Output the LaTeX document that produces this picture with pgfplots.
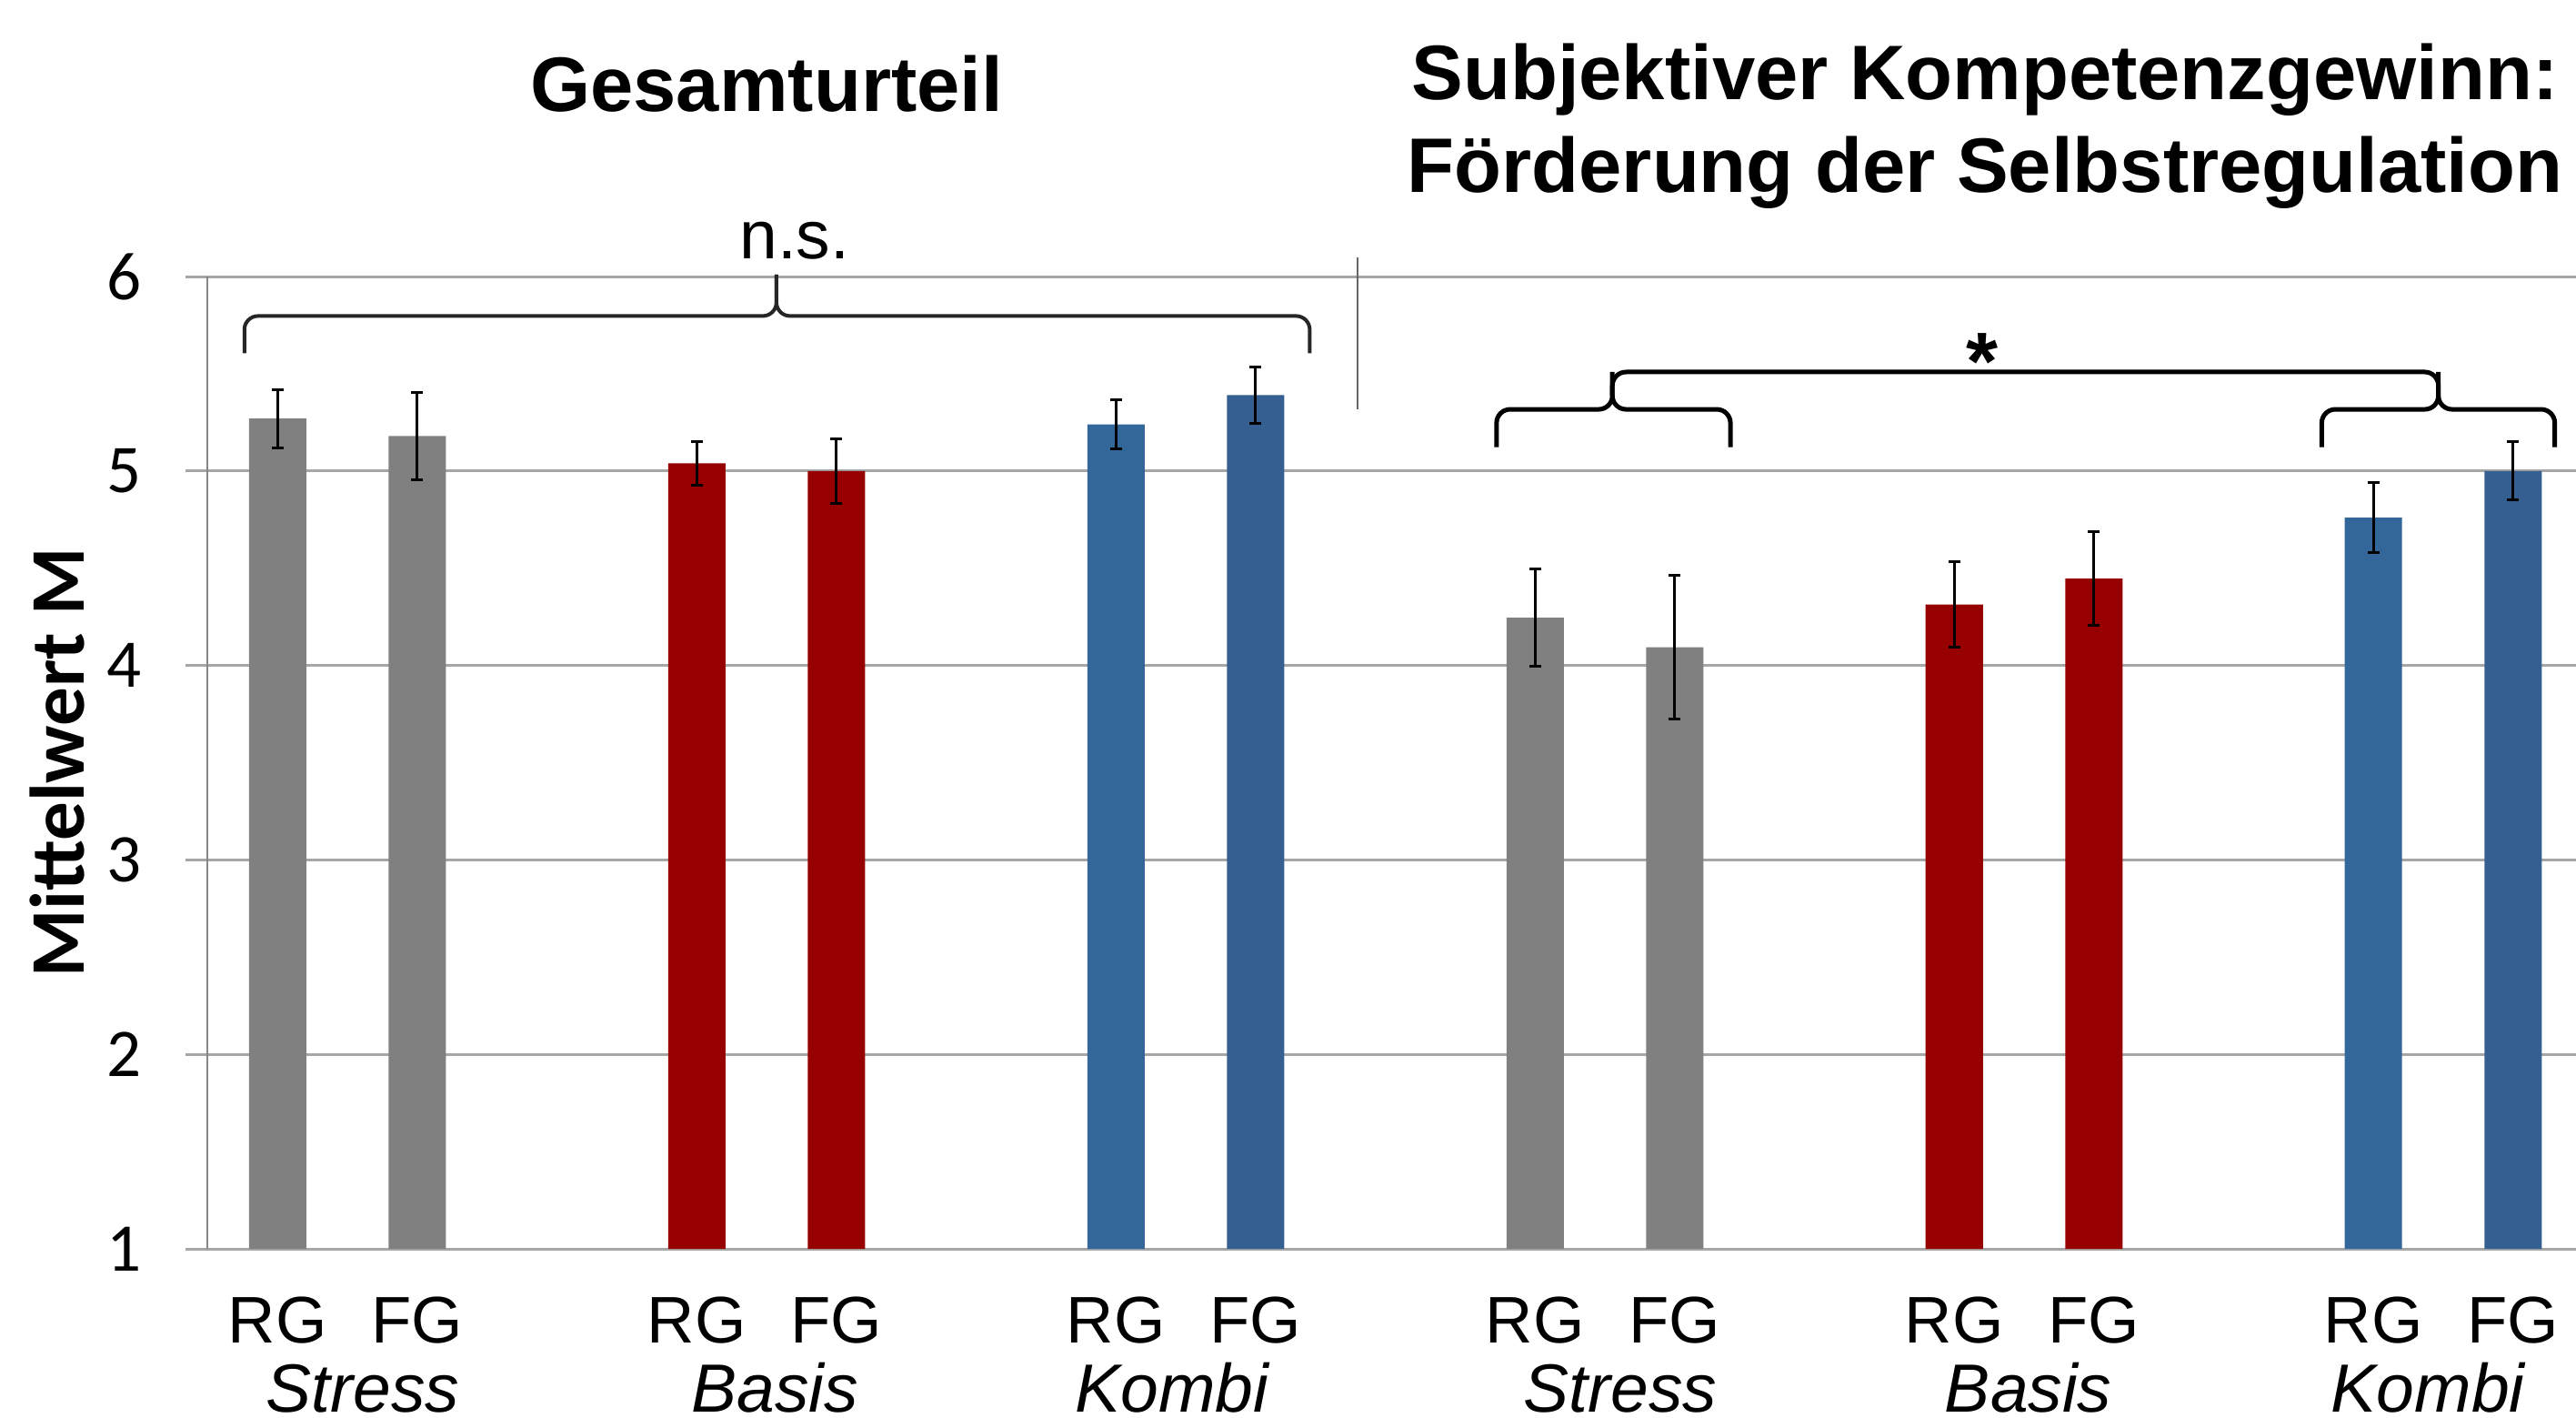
\documentclass[border=0pt]{standalone}
\usepackage{pgfplots}
\pgfplotsset{compat=1.18}
\usepackage{pgfplotstable}
\usepackage{fontspec}
\setmainfont{Liberation Sans}
\newfontfamily\carlito{Carlito}
\definecolor{barGray}{RGB}{128,128,128}
\definecolor{barRed}{RGB}{150,0,0}
\definecolor{blueRG}{RGB}{51,102,153}
\definecolor{blueFG}{RGB}{54,95,145}
\definecolor{gridgray}{RGB}{166,166,166}
\definecolor{axgray}{RGB}{135,135,135}

\pgfplotstableread{
x y e
0 5.27 0.15
1 5.18 0.225
9 4.245 0.25
10 4.094 0.37
}\graydata
\pgfplotstableread{
x y e
3 5.04 0.113
4 5.00 0.167
12 4.313 0.22
13 4.447 0.24
}\reddata
\pgfplotstableread{
x y e
6 5.24 0.128
15 4.76 0.18
}\bluergdata
\pgfplotstableread{
x y e
7 5.39 0.143
16 5.00 0.15
}\bluefgdata

\tikzset{grplab/.style={anchor=base, inner sep=0pt, font=\itshape\fontsize{15}{15}\selectfont, yshift=-35.8pt}}

\begin{document}
\begin{tikzpicture}
\useasboundingbox (-45.7pt,-37pt) rectangle (520.9pt,274.6pt);
\begin{axis}[
  at={(0,0)}, anchor=south west,
  scale only axis, width=520.9pt, height=213.8pt,
  xmin=-0.5, xmax=16.45, ymin=1, ymax=6,
  clip mode=individual,
  axis x line*=bottom, axis y line*=left,
  x axis line style={-, draw=gridgray, line width=0.6pt},
  y axis line style={-, draw=axgray, line width=0.4pt},
  ytick={1,2,3,4,5,6}, yticklabels={1,2,3,4,5,6},
  tick align=outside, major tick length=4.8pt,
  ytick style={draw=gridgray, line width=0.6pt},
  ymajorgrids, grid style={draw=gridgray, line width=0.6pt},
  yticklabel style={font=\carlito\fontsize{15}{15}\selectfont, anchor=east, inner sep=0pt, xshift=-9.6pt},
  xtick={0,1,3,4,6,7,9,10,12,13,15,16},
  xticklabels={RG,FG,RG,FG,RG,FG,RG,FG,RG,FG,RG,FG},
  x tick style={draw=none},
  xticklabel style={font=\fontsize{14.5}{14.5}\selectfont, anchor=base, inner sep=0pt, yshift=-15.8pt},
  error bars/error bar style={line width=0.6pt, black},
  error bars/error mark options={rotate=90, mark size=1.3pt, line width=0.6pt, black},
]
\addplot[ybar, bar width=12.6pt, bar shift=0pt, fill=barGray, draw=none,
  error bars/.cd, y dir=both, y explicit] table[x=x, y=y, y error=e] {\graydata};
\addplot[ybar, bar width=12.6pt, bar shift=0pt, fill=barRed, draw=none,
  error bars/.cd, y dir=both, y explicit] table[x=x, y=y, y error=e] {\reddata};
\addplot[ybar, bar width=12.6pt, bar shift=0pt, fill=blueRG, draw=none,
  error bars/.cd, y dir=both, y explicit] table[x=x, y=y, y error=e] {\bluergdata};
\addplot[ybar, bar width=12.6pt, bar shift=0pt, fill=blueFG, draw=none,
  error bars/.cd, y dir=both, y explicit] table[x=x, y=y, y error=e] {\bluefgdata};

% group labels
\node[grplab] at (axis cs:0.61,1) {Stress};
\node[grplab] at (axis cs:3.56,1) {Basis};
\node[grplab] at (axis cs:6.40,1) {Kombi};
\node[grplab] at (axis cs:9.61,1) {Stress};
\node[grplab] at (axis cs:12.53,1) {Basis};
\node[grplab] at (axis cs:15.39,1) {Kombi};

% y label
\node[rotate=90, font=\carlito\bfseries\fontsize{17}{17}\selectfont] at (rel axis cs:-0.0634,0.5) {Mittelwert M};

% titles
\node[anchor=base, inner sep=0pt, font=\bfseries\fontsize{17}{17}\selectfont] at (axis cs:3.5,6.847) {Gesamturteil};
\node[anchor=base, inner sep=0pt, font=\bfseries\fontsize{17}{17}\selectfont] at (axis cs:12.22,6.912) {Subjektiver Kompetenzgewinn:};
\node[anchor=base, inner sep=0pt, font=\bfseries\fontsize{17}{17}\selectfont] at (axis cs:12.22,6.432) {Förderung der Selbstregulation};

% separator
\draw[black!60, line width=0.4pt] (axis cs:7.73,5.317) -- (axis cs:7.73,6.098);

% n.s. brace
\draw[black!85, line width=0.8pt, rounded corners=3pt] (axis cs:-0.238,5.605) -- (axis cs:-0.238,5.797) -- (axis cs:3.57,5.797) -- (axis cs:3.57,6.01);
\draw[black!85, line width=0.8pt, rounded corners=3pt] (axis cs:7.387,5.605) -- (axis cs:7.387,5.797) -- (axis cs:3.57,5.797) -- (axis cs:3.57,6.01);
\node[anchor=base, inner sep=0pt, font=\fontsize{15}{15}\selectfont] at (axis cs:3.70,6.089) {n.s.};

% * braces
\draw[black, line width=1pt, rounded corners=3pt] (axis cs:8.724,5.122) -- (axis cs:8.724,5.317) -- (axis cs:9.553,5.317) -- (axis cs:9.553,5.509) -- (axis cs:15.465,5.509) -- (axis cs:15.465,5.317) -- (axis cs:16.298,5.317) -- (axis cs:16.298,5.122);
\draw[black, line width=1pt, rounded corners=3pt] (axis cs:10.398,5.122) -- (axis cs:10.398,5.317) -- (axis cs:9.553,5.317) -- (axis cs:9.553,5.509);
\draw[black, line width=1pt, rounded corners=3pt] (axis cs:14.63,5.122) -- (axis cs:14.63,5.317) -- (axis cs:15.465,5.317) -- (axis cs:15.465,5.509);
\node[anchor=base, inner sep=0pt, font=\bfseries\fontsize{18}{18}\selectfont] at (axis cs:12.2,5.42) {*};
\end{axis}
\end{tikzpicture}
\end{document}
